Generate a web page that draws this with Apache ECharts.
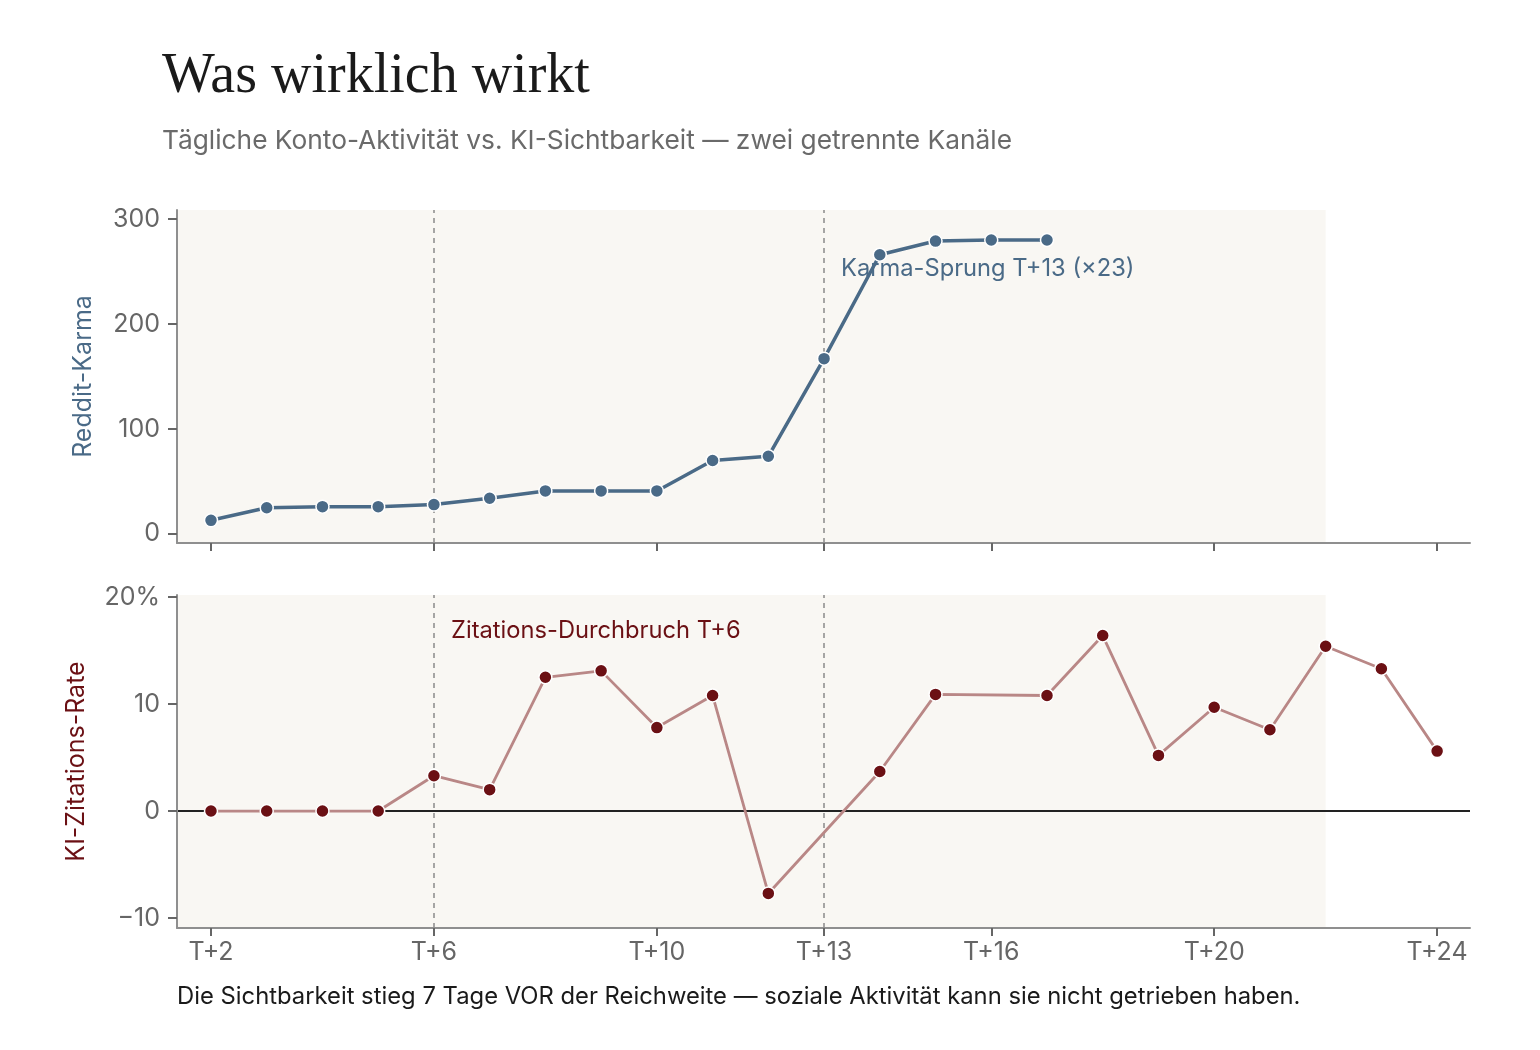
<!DOCTYPE html>
<html>
<head>
<meta charset="utf-8">
<script src="https://cdn.jsdelivr.net/npm/echarts@6/dist/echarts.min.js"></script>
<style>
  html, body { margin: 0; padding: 0; background: #fff; }
  #chart { width: 1540px; height: 1050px; }
</style>
</head>
<body>
<div id="chart"></div>
<script>
// Tage relativ zum Start (T+n)
const karmaDays = [2, 3, 4, 5, 6, 7, 8, 9, 10, 11, 12, 13, 14, 15, 16, 17];
const karmaValues = [13, 25, 26, 26, 28, 34, 41, 41, 41, 70, 74, 167, 266, 279, 280, 280];

const citeDays = [2, 3, 4, 5, 6, 7, 8, 9, 10, 11, 12, 14, 15, 17, 18, 19, 20, 21, 22, 23, 24];
const citeValues = [0, 0, 0, 0, 3.3, 2.0, 12.5, 13.1, 7.8, 10.8, -7.7, 3.7, 10.9, 10.8, 16.4, 5.2, 9.7, 7.6, 15.4, 13.3, 5.6];

const xTicks = [2, 6, 10, 13, 16, 20, 24];
const karmaTicks = [0, 100, 200, 300];
const citeTicks = [-10, 0, 10, 20];
const markerDays = [6, 13];

const xMin = 1.39, xMax = 24.59;
const karmaMin = -8.6, karmaMax = 308.6;
const citeMin = -10.93, citeMax = 20.19;
const shadeEnd = 22;

const BLUE = "#4a6a87";
const RED = "#6b1014";
const RED_LINE = "#b98786";
const AXIS = "#8f8f8f";
const LABEL = "#666666";
const UI_FONT = "Inter";

const chart = echarts.init(document.getElementById("chart"), null, { renderer: "canvas" });

function xAxisFor(gridIndex, showLabels) {
  return {
    type: "value",
    gridIndex: gridIndex,
    min: xMin,
    max: xMax,
    z: 10,
    axisLine: { show: true, onZero: false, lineStyle: { color: AXIS, width: 2 } },
    axisTick: { show: true, length: 8, customValues: xTicks, lineStyle: { color: "#666", width: 2 } },
    axisLabel: {
      show: showLabels,
      customValues: xTicks,
      formatter: v => "T+" + v,
      color: LABEL,
      fontFamily: UI_FONT,
      fontSize: 25,
      margin: 12
    },
    splitLine: { show: false }
  };
}

function yAxisFor(gridIndex, min, max, ticks, fmt, name, color, gap) {
  return {
    type: "value",
    gridIndex: gridIndex,
    min: min,
    max: max,
    z: 10,
    name: name,
    nameLocation: "middle",
    nameGap: gap,
    nameRotate: 90,
    nameTextStyle: { color: color, fontFamily: UI_FONT, fontSize: 25 },
    axisLine: { show: true, lineStyle: { color: AXIS, width: 2 } },
    axisTick: { show: true, length: 9, customValues: ticks, lineStyle: { color: "#666", width: 2 } },
    axisLabel: {
      customValues: ticks,
      formatter: fmt,
      color: LABEL,
      fontFamily: UI_FONT,
      fontSize: 25,
      margin: 17
    },
    splitLine: { show: false }
  };
}

const option = {
  backgroundColor: "#ffffff",
  animation: false,
  title: [
    {
      text: "Was wirklich wirkt",
      left: 157,
      top: 44,
      textStyle: { fontFamily: "Liberation Serif", fontWeight: "normal", fontSize: 56, color: "#1a1a1a" }
    },
    {
      text: "Tägliche Konto-Aktivität vs. KI-Sichtbarkeit — zwei getrennte Kanäle",
      left: 157,
      top: 123,
      textStyle: { fontFamily: UI_FONT, fontWeight: "normal", fontSize: 26.3, color: "#6a6a6a" }
    },
    {
      text: "Die Sichtbarkeit stieg 7 Tage VOR der Reichweite — soziale Aktivität kann sie nicht getrieben haben.",
      left: 172,
      top: 980,
      textStyle: { fontFamily: UI_FONT, fontWeight: "normal", fontSize: 23.8, color: "#1a1a1a" }
    }
  ],
  grid: [
    { left: 177, right: 70, top: 210, height: 333 },
    { left: 177, right: 70, top: 595, height: 333 }
  ],
  xAxis: [xAxisFor(0, false), xAxisFor(1, true)],
  yAxis: [
    yAxisFor(0, karmaMin, karmaMax, karmaTicks, v => String(v), "Reddit-Karma", BLUE, 81),
    yAxisFor(1, citeMin, citeMax, citeTicks, v => (v === 20 ? "20%" : v < 0 ? "\u2212" + Math.abs(v) : String(v)), "KI-Zitations-Rate", RED, 88)
  ],
  graphic: [
    {
      type: "text",
      left: 841,
      top: 257,
      style: { text: "Karma-Sprung T+13 (×23)", fill: BLUE, font: "23.7px Inter" },
      z: 20
    },
    {
      type: "text",
      left: 451,
      top: 619,
      style: { text: "Zitations-Durchbruch T+6", fill: RED, font: "23.7px Inter" },
      z: 20
    }
  ],
  series: [
    {
      type: "line",
      xAxisIndex: 0,
      yAxisIndex: 0,
      data: karmaDays.map((d, i) => [d, karmaValues[i]]),
      symbol: "circle",
      symbolSize: 13,
      lineStyle: { color: BLUE, width: 3.5 },
      itemStyle: { color: BLUE, borderColor: "#ffffff", borderWidth: 1.5 },
      z: 5,
      markArea: {
        silent: true,
        itemStyle: { color: "#f9f7f3" },
        data: [[{ xAxis: xMin, yAxis: karmaMin }, { xAxis: shadeEnd, yAxis: karmaMax }]]
      },
      markLine: {
        silent: true,
        symbol: "none",
        label: { show: false },
        lineStyle: { color: "#8a8a8a", type: [5, 5], width: 1.5 },
        data: markerDays.map(d => ({ xAxis: d }))
      }
    },
    {
      type: "line",
      xAxisIndex: 1,
      yAxisIndex: 1,
      data: citeDays.map((d, i) => [d, citeValues[i]]),
      symbol: "circle",
      symbolSize: 13,
      lineStyle: { color: RED_LINE, width: 2.8 },
      itemStyle: { color: RED, borderColor: "#ffffff", borderWidth: 1.5 },
      z: 5,
      markArea: {
        silent: true,
        itemStyle: { color: "#f9f7f3" },
        data: [[{ xAxis: xMin, yAxis: citeMin }, { xAxis: shadeEnd, yAxis: citeMax }]]
      },
      markLine: {
        silent: true,
        symbol: "none",
        label: { show: false },
        data: markerDays.map(d => ({ xAxis: d, lineStyle: { color: "#8a8a8a", type: [5, 5], width: 1.5 } }))
          .concat([{ yAxis: 0, lineStyle: { color: "#222222", type: "solid", width: 2 } }])
      }
    }
  ]
};

chart.setOption(option);
</script>
</body>
</html>
